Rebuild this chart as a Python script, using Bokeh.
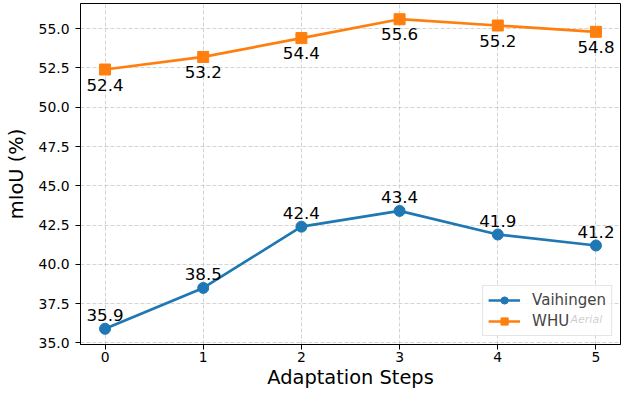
from bokeh.plotting import figure
from bokeh.models import (ColumnDataSource, FixedTicker, PrintfTickFormatter,
                          Legend, LegendItem, Label, Range1d)
from bokeh.embed import file_html
from bokeh.resources import INLINE
from bokeh.core.properties import value

steps = [0, 1, 2, 3, 4, 5]
vaihingen = [35.9, 38.5, 42.4, 43.4, 41.9, 41.2]
whu_aerial = [52.4, 53.2, 54.4, 55.6, 55.2, 54.8]
y_ticks = [35.0, 37.5, 40.0, 42.5, 45.0, 47.5, 50.0, 52.5, 55.0]
x_ticks = [0, 1, 2, 3, 4, 5]

BLUE = "#1f77b4"
ORANGE = "#ff7f0e"
FONT = "DejaVu Sans"

src_v = ColumnDataSource(dict(x=steps, y=vaihingen, t=["%.1f" % v for v in vaihingen]))
src_w = ColumnDataSource(dict(x=steps, y=whu_aerial, t=["%.1f" % v for v in whu_aerial]))

W, H = 622, 391
BL, BR = 80, 2
p = figure(width=W, height=H, output_backend="svg", toolbar_location=None,
           x_range=Range1d(-0.25, 5.25), y_range=Range1d(34.9, 56.6),
           min_border_left=BL, min_border_right=BR, min_border_top=3, min_border_bottom=20)
p.background_fill_color = "white"
p.border_fill_color = "white"
p.outline_line_color = "black"
p.outline_line_width = 1

# grid
p.grid.grid_line_color = "#b0b0b0"
p.grid.grid_line_alpha = 0.55
p.grid.grid_line_dash = "4 2"
p.grid.grid_line_width = 1

# axes
p.xaxis.ticker = FixedTicker(ticks=x_ticks)
p.yaxis.ticker = FixedTicker(ticks=y_ticks)
p.yaxis.formatter = PrintfTickFormatter(format="%.1f")
for ax in (p.xaxis, p.yaxis):
    ax.axis_line_color = "black"
    ax.axis_line_width = 1
    ax.major_tick_line_color = "black"
    ax.major_tick_line_width = 1
    ax.major_tick_out = 5
    ax.major_tick_in = 0
    ax.minor_tick_line_color = None
    ax.major_label_text_font = FONT
    ax.major_label_text_font_size = "13.9px"
    ax.major_label_text_color = "black"
    ax.axis_label_text_font = FONT
    ax.axis_label_text_font_size = "19.4px"
    ax.axis_label_text_font_style = "normal"
    ax.axis_label_text_color = "black"
p.xaxis.axis_label = "Adaptation Steps"
p.yaxis.axis_label = "mIoU (%)"
p.xaxis.major_label_standoff = 2
p.xaxis.axis_label_standoff = 1
p.yaxis.major_label_standoff = 6
p.yaxis.axis_label_standoff = 8

# series
l1 = p.line("x", "y", source=src_v, color=BLUE, line_width=2.7)
s1 = p.scatter("x", "y", source=src_v, marker="circle", size=11, color=BLUE)
l2 = p.line("x", "y", source=src_w, color=ORANGE, line_width=2.7)
s2 = p.scatter("x", "y", source=src_w, marker="square", size=11, color=ORANGE)

p.text("x", "y", text="t", source=src_v, text_align="center", text_baseline="alphabetic",
       y_offset=-14, text_font=value(FONT), text_font_size="16.7px", text_color="black")
p.text("x", "y", text="t", source=src_w, text_align="center", text_baseline="alphabetic",
       y_offset=15, text_font=value(FONT), text_font_size="16.7px", text_color="black")

LEG_FS = 15
legend = Legend(items=[LegendItem(label="Vaihingen", renderers=[l1, s1]),
                       LegendItem(label="WHU", renderers=[l2, s2])],
                location="bottom_right", margin=8, padding=5, spacing=3,
                glyph_width=32, glyph_height=18, label_height=18, label_standoff=12,
                label_text_font=FONT, label_text_font_size="%dpx" % LEG_FS,
                background_fill_color="white", background_fill_alpha=0.8,
                border_line_color="#cccccc", border_line_width=1)
p.add_layout(legend, "center")

# superscript "Aerial" placed right after the "WHU" legend label
frame_w = W - BL - BR
w_vaih = 5.005 * LEG_FS   # DejaVu Sans advance width of "Vaihingen"
w_whu = 2.473 * LEG_FS    # DejaVu Sans advance width of "WHU"
sup_x = frame_w - 8 - (10 + 32 + 12 + w_vaih) + 5 + 32 + 12 + w_whu + 1
sup = Label(x=sup_x, y=25, x_units="screen", y_units="screen", text="Aerial",
            text_font=FONT, text_font_size="11px", text_font_style="italic",
            text_baseline="alphabetic", text_color="black")
p.add_layout(sup)

open("out.html", "w").write(file_html(p, INLINE))
